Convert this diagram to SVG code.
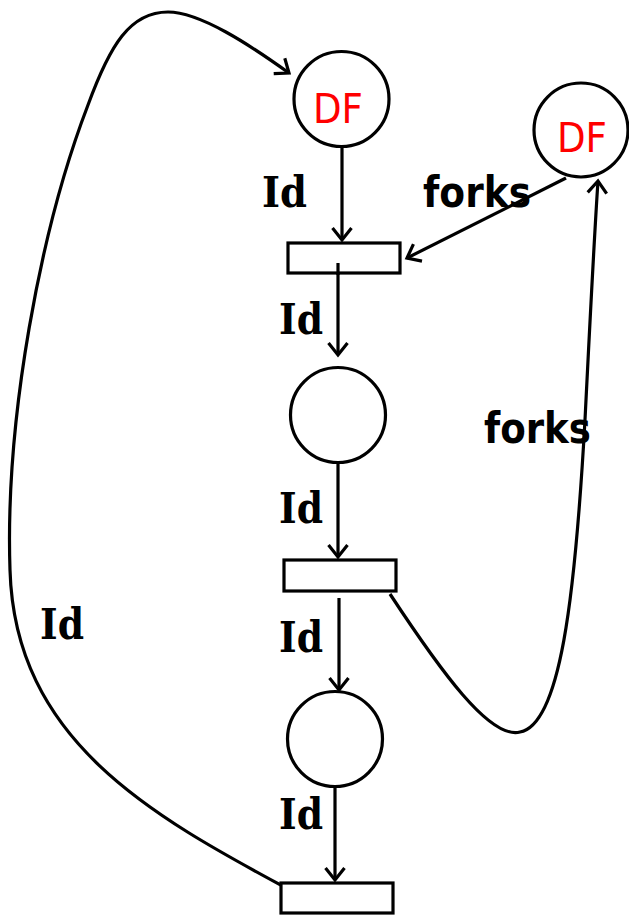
<svg xmlns="http://www.w3.org/2000/svg" width="629" height="916" viewBox="0 0 629 916">
<style>
.place{fill:#fff;stroke:#000;stroke-width:3.2}
.trans{fill:#fff;stroke:#000;stroke-width:3.2}
.arc{fill:none;stroke:#000;stroke-width:3.2}
.df{font-family:"DejaVu Sans",Verdana,sans-serif;font-size:40px;fill:#ff0000;text-anchor:middle}
.id{font-family:"DejaVu Serif","Liberation Serif",serif;font-weight:bold;font-size:42px;fill:#000}
.fk{font-family:"DejaVu Sans","Liberation Sans",sans-serif;font-weight:bold;font-size:42px;fill:#000}
</style>
<defs>
<marker id="ah" markerUnits="userSpaceOnUse" markerWidth="30" markerHeight="30" viewBox="-15 -15 30 30" refX="0" refY="0" orient="auto">
<path d="M -12 -9.5 L 0 0 L -12 9.5" fill="none" stroke="#000" stroke-width="3.2"/>
</marker>
</defs>
<g id="connectors">
<path class="arc" d="M342 148 L342 240" marker-end="url(#ah)"/>
<path class="arc" d="M566 178 L407 258" marker-end="url(#ah)"/>
<path class="arc" d="M338 263 L338 355" marker-end="url(#ah)"/>
<path class="arc" d="M338 463 L338 557" marker-end="url(#ah)"/>
<path class="arc" d="M339 598 L339 690" marker-end="url(#ah)"/>
<path class="arc" d="M335 787 L335 880" marker-end="url(#ah)"/>
<path class="arc" d="M390 594 C440 670 490 740 520 732 C560 725 575 600 585 420 C590 320 594 240 598 181" marker-end="url(#ah)"/>
<path class="arc" d="M290 890 C150 815 15 740 10 570 C5 420 40 230 88 105 C110 45 130 12 168 12 C200 12 250 45 289 73" marker-end="url(#ah)"/>
<text class="id" x="262" y="207" textLength="45" lengthAdjust="spacingAndGlyphs">Id</text>
<text class="fk" x="423" y="207" textLength="108" lengthAdjust="spacingAndGlyphs">forks</text>
<text class="id" x="279" y="334" textLength="44" lengthAdjust="spacingAndGlyphs">Id</text>
<text class="fk" x="484" y="443" textLength="107" lengthAdjust="spacingAndGlyphs">forks</text>
<text class="id" x="279" y="523" textLength="44" lengthAdjust="spacingAndGlyphs">Id</text>
<text class="id" x="40" y="639" textLength="44" lengthAdjust="spacingAndGlyphs">Id</text>
<text class="id" x="279" y="652" textLength="44" lengthAdjust="spacingAndGlyphs">Id</text>
<text class="id" x="279" y="829" textLength="44" lengthAdjust="spacingAndGlyphs">Id</text>
</g>
<g id="p1"><circle class="place" cx="341.5" cy="99" r="47.5"/><text class="df" x="338" y="123" textLength="50" lengthAdjust="spacingAndGlyphs">DF</text></g>
<g id="p2"><circle class="place" cx="581" cy="130" r="47"/><text class="df" x="582" y="152" textLength="50" lengthAdjust="spacingAndGlyphs">DF</text></g>
<g id="t1"><rect class="trans" x="288" y="243" width="112" height="30"/><path class="arc" d="M338 263 L338 275"/></g>
<g id="p3"><circle class="place" cx="338" cy="415" r="47.5"/></g>
<g id="t2"><rect class="trans" x="284" y="560" width="112" height="31"/></g>
<g id="p4"><circle class="place" cx="335" cy="739" r="47.5"/></g>
<g id="t3"><rect class="trans" x="281" y="883" width="112" height="30"/></g>
</svg>
